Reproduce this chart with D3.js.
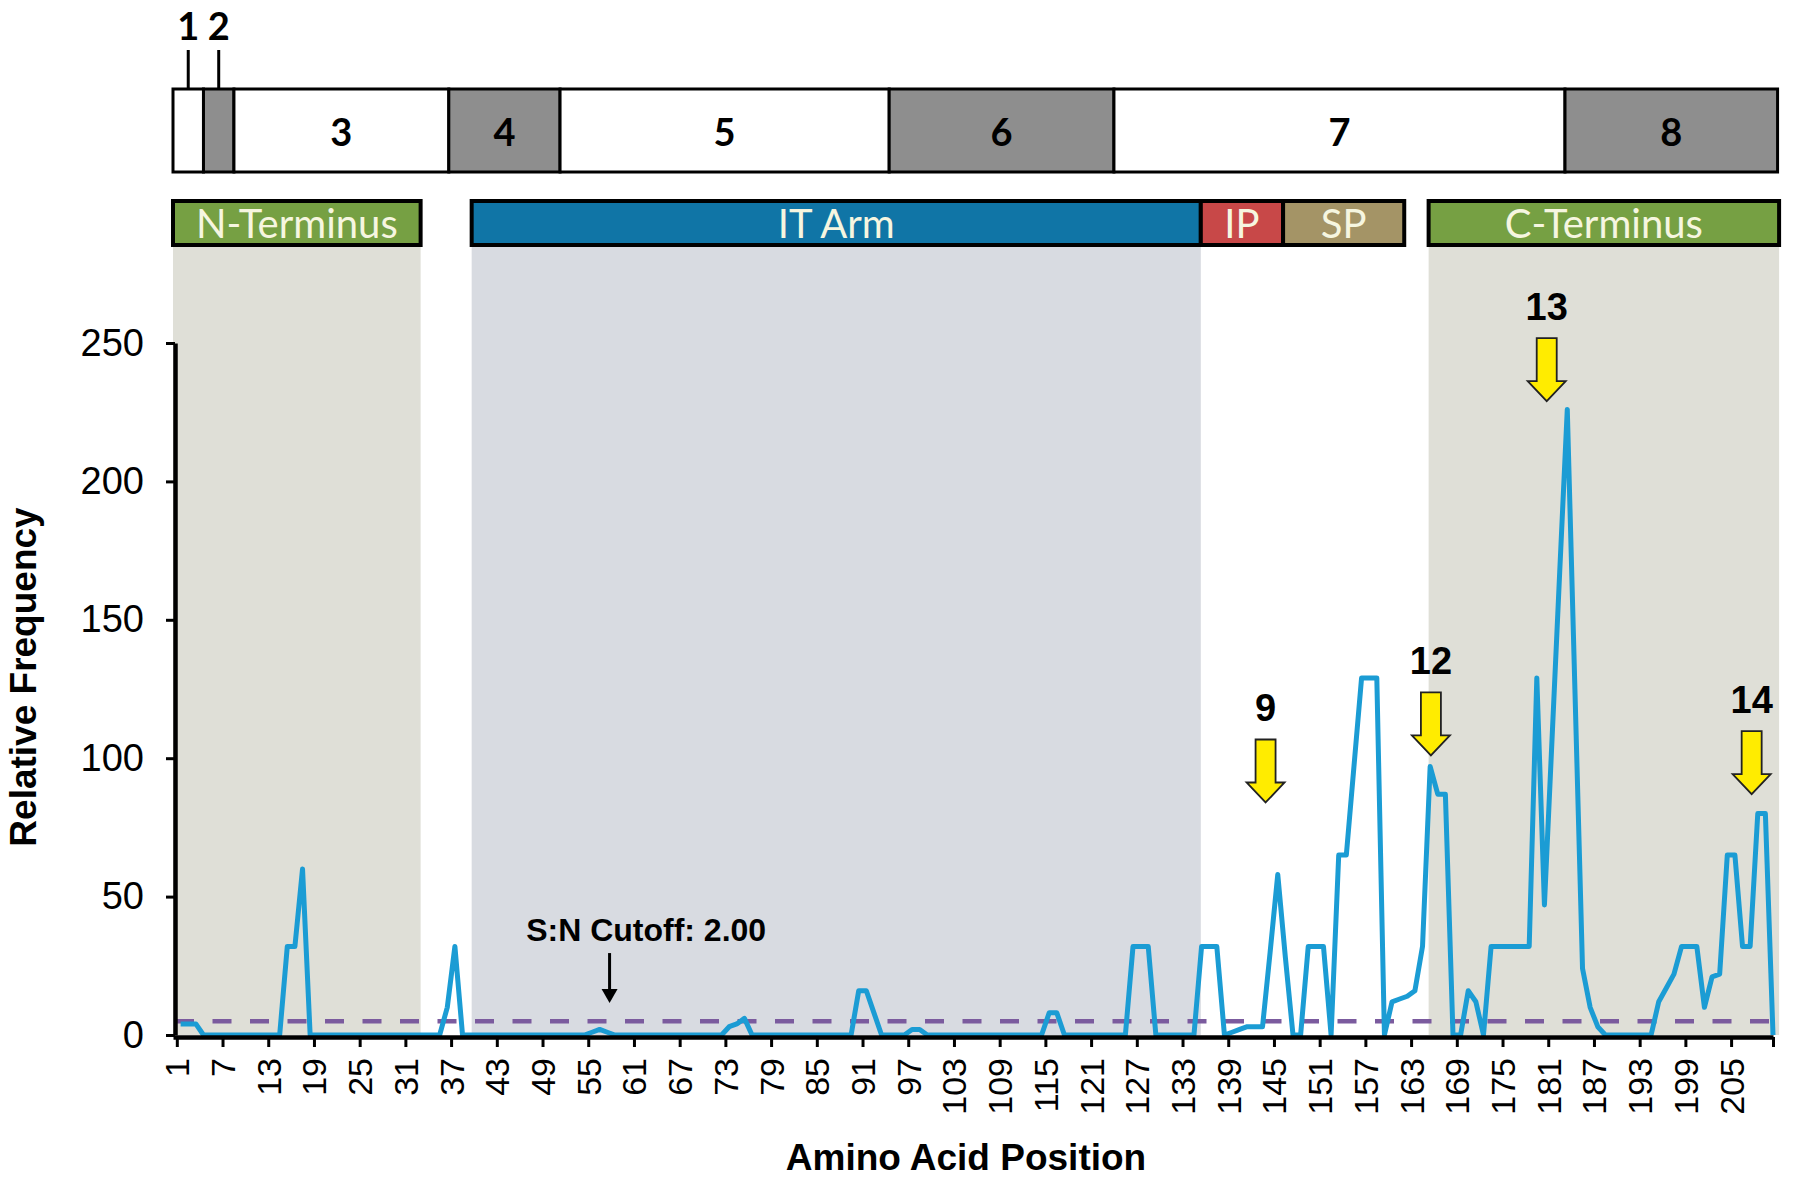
<!DOCTYPE html>
<html>
<head>
<meta charset="utf-8">
<script src="https://cdn.jsdelivr.net/npm/d3@7"></script>
<style>
  body { margin: 0; background: #fff; }
  svg text { font-family: "Liberation Sans", Arial, sans-serif; }
</style>
</head>
<body>
<div id="chart"></div>
<script>
// relative frequency per amino acid position 1..210
var freq = [
  4, 4, 4, 0, 0, 0, 0, 0, 0, 0,
  0, 0, 0, 0, 32, 32, 60, 0, 0, 0,
  0, 0, 0, 0, 0, 0, 0, 0, 0, 0,
  0, 0, 0, 0, 0, 10, 32, 0, 0, 0,
  0, 0, 0, 0, 0, 0, 0, 0, 0, 0,
  0, 0, 0, 0, 1, 2, 1, 0, 0, 0,
  0, 0, 0, 0, 0, 0, 0, 0, 0, 0,
  0, 0, 3, 4, 6, 0, 0, 0, 0, 0,
  0, 0, 0, 0, 0, 0, 0, 0, 0, 16,
  16, 8, 0, 0, 0, 0, 2, 2, 0, 0,
  0, 0, 0, 0, 0, 0, 0, 0, 0, 0,
  0, 0, 0, 0, 8, 8, 0, 0, 0, 0,
  0, 0, 0, 0, 0, 32, 32, 32, 0, 0,
  0, 0, 0, 0, 32, 32, 32, 0, 1, 2,
  3, 3, 3, 30, 58, 28, 0, 0, 32, 32,
  32, 0, 65, 65, 97, 129, 129, 129, 0, 12,
  13, 14, 16, 32, 97, 87, 87, 0, 0, 16,
  12, 0, 32, 32, 32, 32, 32, 32, 129, 47,
  107, 167, 226, 125, 24, 10, 3, 0, 0, 0,
  0, 0, 0, 0, 12, 17, 22, 32, 32, 32,
  10, 21, 22, 65, 65, 32, 32, 80, 80, 0
];

var yTicks = [0, 50, 100, 150, 200, 250];
var xLabels = [1, 7, 13, 19, 25, 31, 37, 43, 49, 55, 61, 67, 73, 79, 85, 91, 97, 103,
               109, 115, 121, 127, 133, 139, 145, 151, 157, 163, 169, 175, 181, 187,
               193, 199, 205];

// exon map (boundaries in amino acid units)
var exonNames = ["1", "2", "3", "4", "5", "6", "7", "8"];
var exonEnds = [4, 8, 36.2, 50.8, 94, 123.5, 182.7, 210.6];

// protein domains
var domainNames = ["N-Terminus", "IT Arm", "IP", "SP", "C-Terminus"];
var domainStarts = [0, 39.2, 134.9, 145.7, 164.8];
var domainEnds = [32.5, 134.9, 145.7, 161.6, 210.8];
var shadedDomains = ["N-Terminus", "IT Arm", "C-Terminus"];

// numbered peaks (arrow position and the value at the arrow tip)
var peakNames = ["9", "12", "13", "14"];
var peakPos = [143.4, 165.1, 180.3, 207.2];
var peakTip = [84, 101, 229, 87];

var cutoff = 5;
var cutoffText = "S:N Cutoff: 2.00";

function init() {
  var w = 1800, h = 1178;
  var svg = d3.select("#chart").append("svg")
              .attr("width", w)
              .attr("height", h);
  svg.append("rect").attr("width", w).attr("height", h).attr("fill", "#fff");

  var xScale = d3.scaleLinear().domain([0, 210]).range([173, 1773]);
  var yScale = d3.scaleLinear().domain([0, 250]).range([1035, 343]);

  var domainFill = {"N-Terminus": "#76a043", "IT Arm": "#1075a6", "IP": "#c84848",
                    "SP": "#a49466", "C-Terminus": "#76a043"};
  var shadeFill = {"N-Terminus": "#dfdfd7", "IT Arm": "#d8dbe1", "C-Terminus": "#dfdfd7"};

  var domains = domainNames.map(function(n, i) {
    return {name: n, start: domainStarts[i], end: domainEnds[i]};
  });

  // shaded regions behind the plot
  svg.selectAll("rect.shade")
     .data(domains.filter(function(d) { return shadedDomains.indexOf(d.name) >= 0; }))
     .enter().append("rect")
     .attr("class", "shade")
     .attr("x", function(d) { return xScale(d.start); })
     .attr("y", 247)
     .attr("width", function(d) { return xScale(d.end) - xScale(d.start); })
     .attr("height", yScale(0) - 247)
     .attr("fill", function(d) { return shadeFill[d.name]; });

  // exon bar
  var exons = exonNames.map(function(n, i) {
    return {name: n, start: i === 0 ? 0 : exonEnds[i - 1], end: exonEnds[i], i: i};
  });
  var exonTop = 89, exonBottom = 172;
  svg.selectAll("rect.exon")
     .data(exons)
     .enter().append("rect")
     .attr("class", "exon")
     .attr("x", function(d) { return xScale(d.start); })
     .attr("y", exonTop)
     .attr("width", function(d) { return xScale(d.end) - xScale(d.start); })
     .attr("height", exonBottom - exonTop)
     .attr("fill", function(d) { return d.i % 2 ? "#8e8e8e" : "#fff"; })
     .attr("stroke", "#000")
     .attr("stroke-width", 3);

  exons.forEach(function(d) {
    var cx = (xScale(d.start) + xScale(d.end)) / 2;
    var small = d.i < 2;
    if (small) {
      svg.append("line")
         .attr("x1", cx).attr("x2", cx)
         .attr("y1", 50).attr("y2", exonTop)
         .attr("stroke", "#000").attr("stroke-width", 3);
    }
    svg.append("text")
       .attr("x", cx)
       .attr("y", small ? 40 : 146)
       .attr("text-anchor", "middle")
       .style("font-family", "Lato, 'Open Sans', sans-serif")
       .style("font-weight", "bold")
       .style("font-size", "38px")
       .text(d.name);
  });

  // domain bars
  svg.selectAll("rect.domain")
     .data(domains)
     .enter().append("rect")
     .attr("class", "domain")
     .attr("x", function(d) { return xScale(d.start); })
     .attr("y", 201)
     .attr("width", function(d) { return xScale(d.end) - xScale(d.start); })
     .attr("height", 44)
     .attr("fill", function(d) { return domainFill[d.name]; })
     .attr("stroke", "#000")
     .attr("stroke-width", 4);

  svg.selectAll("text.domain")
     .data(domains)
     .enter().append("text")
     .attr("class", "domain")
     .attr("x", function(d) { return (xScale(d.start) + xScale(d.end)) / 2; })
     .attr("y", 238)
     .attr("text-anchor", "middle")
     .style("font-family", "Lato, 'Open Sans', sans-serif")
     .style("font-size", "40px")
     .attr("fill", "#f6f6e0")
     .text(function(d) { return d.name; });

  // cutoff dashed line
  svg.append("line")
     .attr("x1", 175).attr("x2", xScale(210))
     .attr("y1", yScale(cutoff)).attr("y2", yScale(cutoff))
     .attr("stroke", "#7b5b9e")
     .attr("stroke-width", 4.5)
     .attr("stroke-dasharray", "19,18.5");

  // frequency line
  var line = d3.line()
               .x(function(d, i) { return xScale(i + 1); })
               .y(function(d) { return yScale(d); });
  svg.append("path")
     .datum(freq)
     .attr("d", line)
     .attr("fill", "none")
     .attr("stroke", "#1b9cd4")
     .attr("stroke-width", 5)
     .attr("stroke-linejoin", "round");

  // axes
  var xAxis = d3.axisBottom(xScale)
                .tickValues(xLabels.map(function(p) { return p - 0.5; }).concat([210]))
                .tickSize(10)
                .tickSizeOuter(0)
                .tickFormat(function(d) { return d === 210 ? "" : d + 0.5; });
  var gx = svg.append("g")
              .attr("transform", "translate(0," + (yScale(0) + 2) + ")")
              .call(xAxis);
  gx.select(".domain").attr("stroke-width", 4.5);
  gx.selectAll(".tick line").attr("stroke-width", 3);
  gx.selectAll("text")
    .attr("transform", "rotate(-90)")
    .attr("text-anchor", "end")
    .attr("x", -21)
    .attr("y", 0)
    .attr("dy", "0.35em")
    .attr("fill", "#000")
    .style("font-size", "34px");

  var yAxis = d3.axisLeft(yScale)
                .tickValues(yTicks)
                .tickSize(9)
                .tickSizeOuter(0)
                .tickPadding(22);
  var gy = svg.append("g")
              .attr("transform", "translate(175,0)")
              .call(yAxis);
  gy.select(".domain").attr("stroke-width", 4.5);
  gy.selectAll(".tick line").attr("stroke-width", 3);
  gy.selectAll("text").attr("fill", "#000").style("font-size", "38px");

  // axis titles
  svg.append("text")
     .attr("x", 966).attr("y", 1170)
     .attr("text-anchor", "middle")
     .style("font-weight", "bold").style("font-size", "37px")
     .text("Amino Acid Position");

  svg.append("text")
     .attr("transform", "translate(36,677) rotate(-90)")
     .attr("text-anchor", "middle")
     .style("font-weight", "bold").style("font-size", "37px")
     .text("Relative Frequency");

  // cutoff annotation
  var ax = xScale(57.3);
  svg.append("line")
     .attr("x1", ax).attr("x2", ax)
     .attr("y1", yScale(29.6)).attr("y2", yScale(15.6))
     .attr("stroke", "#000").attr("stroke-width", 3);
  svg.append("path")
     .attr("d", "M" + (ax - 8) + "," + yScale(16.6) + "L" + (ax + 8) + "," + yScale(16.6) +
                "L" + ax + "," + yScale(11.6) + "Z")
     .attr("fill", "#000");
  svg.append("text")
     .attr("x", xScale(62.1)).attr("y", yScale(34))
     .attr("text-anchor", "middle")
     .style("font-weight", "bold").style("font-size", "32px")
     .text(cutoffText);

  // numbered peak arrows
  peakNames.forEach(function(n, i) {
    var px = xScale(peakPos[i]);
    var ty = yScale(peakTip[i]);
    var pts = [[-10, -63], [10, -63], [10, -20], [19, -20], [0, 0], [-19, -20], [-10, -20]];
    svg.append("path")
       .attr("d", "M" + pts.map(function(p) { return (px + p[0]) + "," + (ty + p[1]); }).join("L") + "Z")
       .attr("fill", "#ffec00")
       .attr("stroke", "#222")
       .attr("stroke-width", 1.8);
    svg.append("text")
       .attr("x", px).attr("y", ty - 81)
       .attr("text-anchor", "middle")
       .style("font-weight", "bold").style("font-size", "38px")
       .text(n);
  });
}

window.onload = init;
</script>
</body>
</html>
